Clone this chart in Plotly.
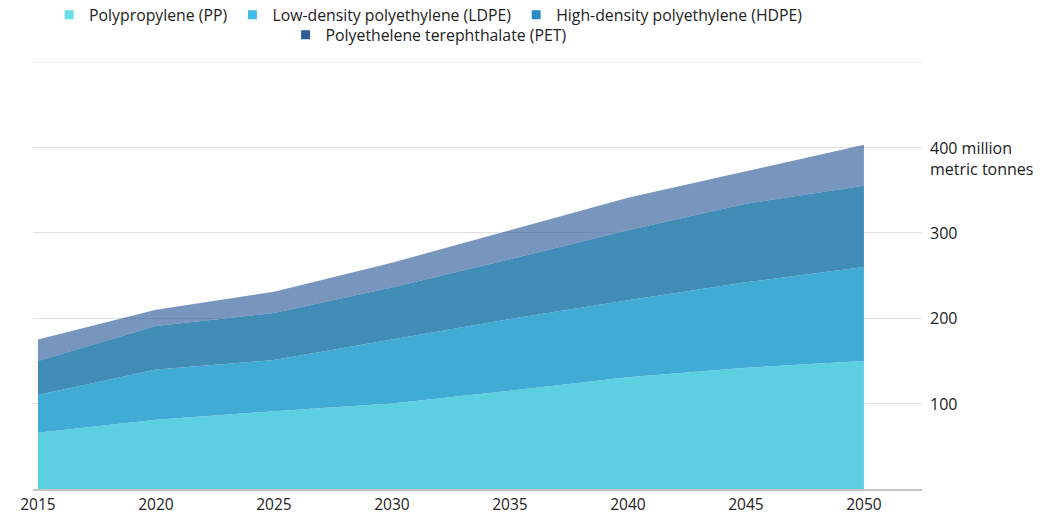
import plotly.graph_objects as go

# Projected plastic production by resin type (million metric tonnes)
years = [2015, 2020, 2025, 2030, 2035, 2040, 2045, 2050]
pp = [66, 81, 91, 100, 115, 131, 142, 150]
ldpe = [44, 59, 60, 75, 84, 90, 100, 110]
hdpe = [40, 51, 55, 61, 70, 82, 92, 95]
pet = [25, 19, 25, 29, 34, 38, 38, 48]

series_names = [
    "Polypropylene (PP)",
    "Low-density polyethylene (LDPE)",
    "High-density polyethylene (HDPE)",
    "Polyethelene terephthalate (PET)",
]
y_ticks = [100, 200, 300, 400]
y_tick_text = ["100", "200", "300", "400 million<br>metric tonnes"]
y_grid = [100, 200, 300, 400, 500]

fills = ["#5ccfe0", "#40acd6", "rgba(50,130,178,0.92)", "rgba(46,92,153,0.65)"]
swatches = ["#6adde7", "#3dbde8", "#2b8cc5", "#2d5c98"]
FONT = "Open Sans"

fig = go.Figure()
for name, vals, fc in zip(series_names, [pp, ldpe, hdpe, pet], fills):
    fig.add_trace(go.Scatter(
        x=years, y=vals, name=name, stackgroup="plastics",
        mode="lines", line=dict(width=0), fillcolor=fc,
        showlegend=False, hoverinfo="skip",
    ))

# Square swatches for the legend: first three on row one, PET centred below
for i, (name, sc) in enumerate(zip(series_names, swatches)):
    fig.add_trace(go.Scatter(
        x=[None], y=[None], name=name, mode="markers",
        marker=dict(symbol="square", size=9, color=sc),
        legend="legend" if i < 3 else "legend2",
    ))

# Top gridline sits on the range edge, so draw it explicitly
fig.add_shape(type="line", xref="paper", x0=0, x1=1, yref="y",
              y0=y_grid[-1], y1=y_grid[-1], line=dict(color="#e0e0e0", width=1),
              layer="below")

# Right-hand value labels
for v, t in zip(y_ticks, y_tick_text):
    multi = "<br>" in t
    fig.add_annotation(
        x=1, xref="paper", y=v, yref="y", text=t, showarrow=False,
        xanchor="left", yanchor="top" if multi else "middle",
        yshift=12 if multi else 0, xshift=6, align="left",
        font=dict(family=FONT, size=16, color="#222"),
    )

legend_common = dict(
    orientation="h", xanchor="center", yanchor="middle", yref="container",
    font=dict(family=FONT, size=15.8, color="#222"),
    bgcolor="rgba(0,0,0,0)", itemwidth=30, traceorder="normal",
)

fig.update_layout(
    width=1048, height=516,
    margin=dict(l=33, r=126, t=62, b=27),
    paper_bgcolor="white", plot_bgcolor="white",
    font=dict(family=FONT, size=14, color="#222"),
    hovermode=False,
    legend=dict(x=0.445, y=0.971, **legend_common),
    legend2=dict(x=0.445, y=0.932, **legend_common),
    xaxis=dict(
        range=[2014.79, 2052.46], tickvals=years,
        ticktext=[str(y) for y in years], showgrid=False,
        showline=True, linecolor="#c4c4c4", linewidth=2,
        ticks="", tickfont=dict(family=FONT, size=15.5, color="#222"),
        zeroline=False, fixedrange=True, automargin=False,
    ),
    yaxis=dict(
        range=[0, 500], tickvals=y_grid,
        showticklabels=False, showgrid=True, gridcolor="#e0e0e0",
        gridwidth=1, zeroline=False, fixedrange=True, automargin=False,
    ),
)

fig.write_html("out.html")
